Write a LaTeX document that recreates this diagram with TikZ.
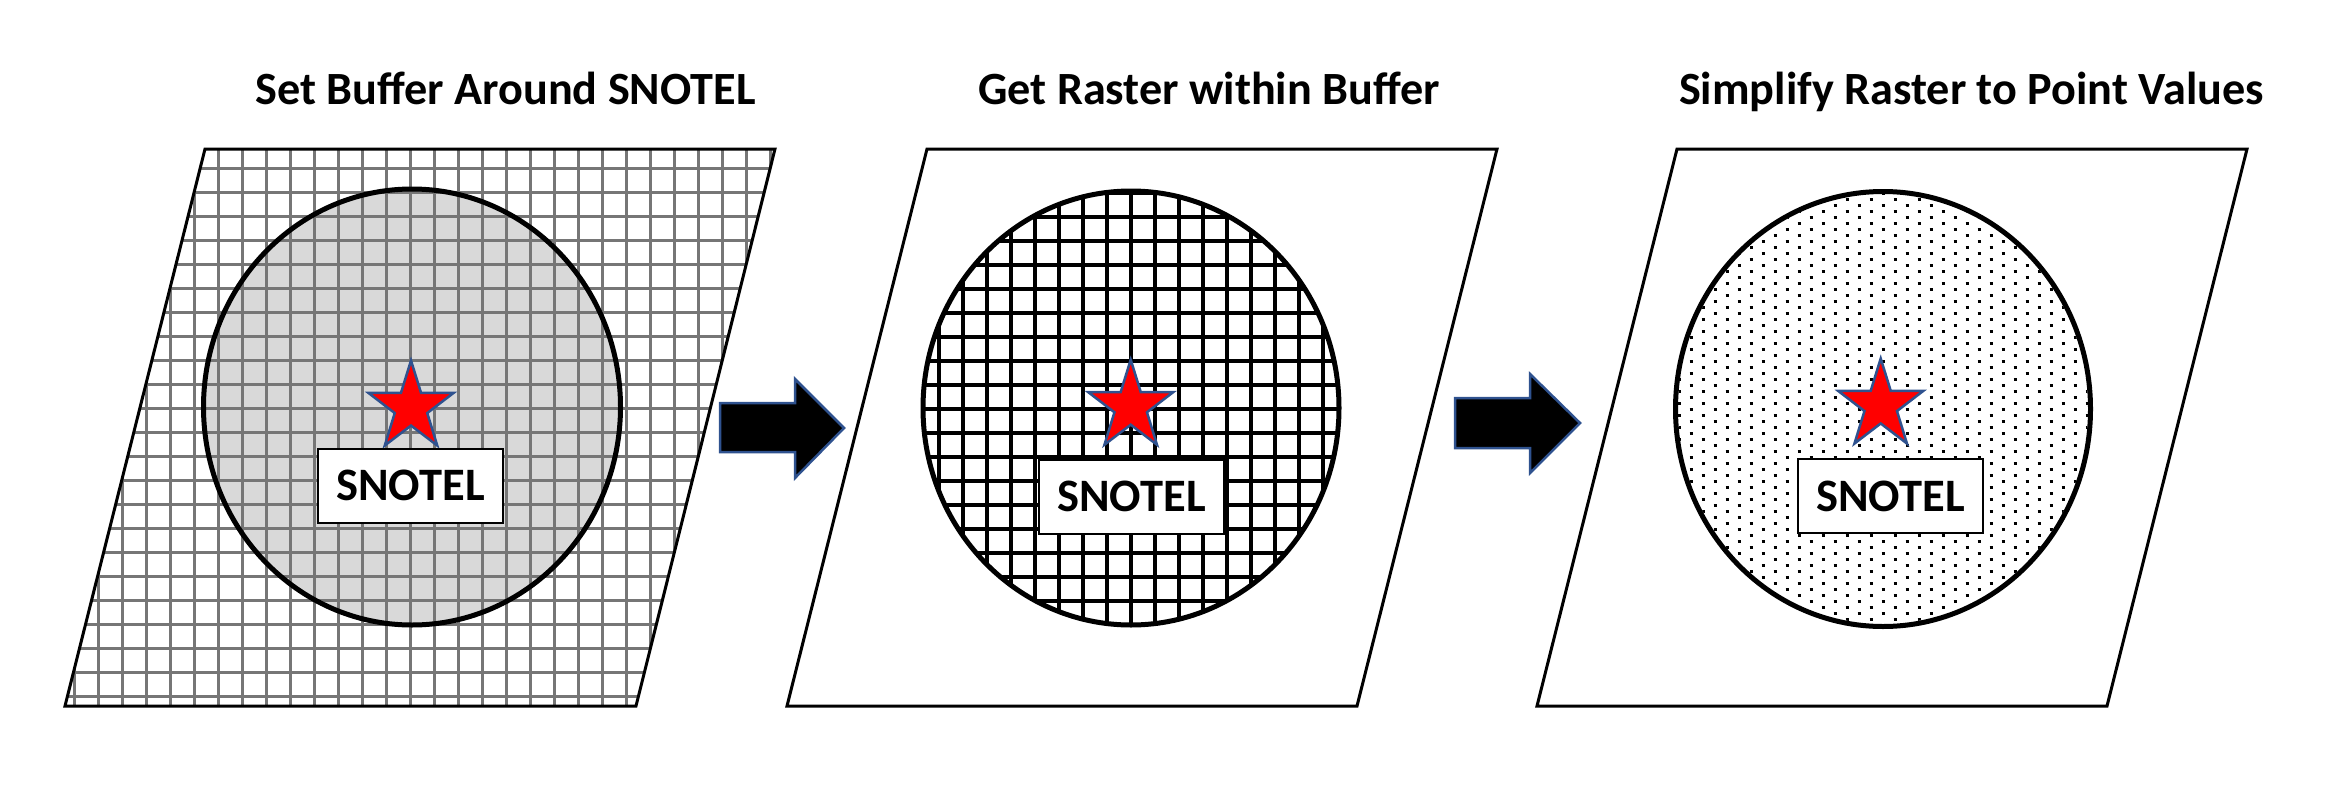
\documentclass[tikz,border=0pt]{standalone}
\usepackage{fontspec}
\setmainfont{Carlito}
\definecolor{gridgray}{RGB}{118,118,118}
\definecolor{buffill}{RGB}{217,217,217}
\definecolor{outlineblue}{RGB}{47,82,143}
\definecolor{starred}{RGB}{255,0,0}
\begin{document}
\begin{tikzpicture}[x=1pt,y=-1pt,
  panel/.style={draw=black,line width=3pt,line join=miter},
  buffer/.style={draw=black,line width=5pt},
  starsty/.style={fill=starred,draw=outlineblue,line width=2.5pt,line join=miter},
  labelbox/.style={draw=black,line width=2pt,fill=white,inner sep=0pt,minimum width=185pt,minimum height=74pt,font=\fontsize{46.5}{54}\selectfont\bfseries},
  titletext/.style={font=\fontsize{46.2}{54}\selectfont\bfseries,inner sep=0pt,anchor=base},
  blockarrow/.style={fill=black,draw=outlineblue,line width=2.5pt,line join=miter},
  rastergray/.style={draw=gridgray,line width=3pt},
  rasterblack/.style={draw=black,line width=4pt},
  dotrow/.style={draw=black,line width=3pt,dash pattern=on 3pt off 21pt}
]
\useasboundingbox (0,0) rectangle (2334,795);

% ---------- titles
\node[titletext] (t1) at (505.5,104) {Set Buffer Around SNOTEL};
\node[titletext] (t2) at (1209,104) {Get Raster within Buffer};
\node[titletext] (t3) at (1971.5,104) {Simplify Raster to Point Values};

% ---------- panel 1
\coordinate (p1a) at (65,706);
\coordinate (p1b) at (205,149);
\coordinate (p1c) at (775,149);
\coordinate (p1d) at (636,706);
\begin{scope}
  \clip (p1a) -- (p1b) -- (p1c) -- (p1d) -- cycle;
  \fill[buffill] (412,407) ellipse [x radius=208.5, y radius=218];
  \foreach \k in {-15,...,15}
    \draw[rastergray] ({410.3+24*(\k)},140) -- ({410.3+24*(\k)},720);
  \foreach \k in {-11,...,12}
    \draw[rastergray] (50,{408.3+24*(\k)}) -- (790,{408.3+24*(\k)});
\end{scope}
\draw[panel] (p1a) -- (p1b) -- (p1c) -- (p1d) -- cycle;
\draw[buffer] (412,407) ellipse [x radius=208.5, y radius=218];
\begin{scope}[shift={(411,407.5)},xscale=0.95]
  \draw[starsty] (270:47) -- (306:18) -- (342:47) -- (18:18) -- (54:47) -- (90:18) -- (126:47) -- (162:18) -- (198:47) -- (234:18) -- cycle;
\end{scope}
\node[labelbox] (s1) at (410.5,485.5) {SNOTEL};

% ---------- arrow 1
\draw[blockarrow] (720,403) -- (795,403) -- (795,379) -- (844,428) -- (795,478) -- (795,452) -- (720,452) -- cycle;

% ---------- panel 2
\coordinate (p2a) at (787,706);
\coordinate (p2b) at (927,149);
\coordinate (p2c) at (1497,149);
\coordinate (p2d) at (1357,706);
\draw[panel] (p2a) -- (p2b) -- (p2c) -- (p2d) -- cycle;
\begin{scope}
  \clip (1131,408) ellipse [x radius=208, y radius=217];
  \foreach \k in {-9,...,9}
    \draw[rasterblack] ({1131+24*(\k)},180) -- ({1131+24*(\k)},640);
  \foreach \k in {-10,...,10}
    \draw[rasterblack] (910,{408.7+24*(\k)}) -- (1350,{408.7+24*(\k)});
\end{scope}
\draw[buffer] (1131,408) ellipse [x radius=208, y radius=217];
\begin{scope}[shift={(1130.7,406.7)},xscale=0.95]
  \draw[starsty] (270:47) -- (306:18) -- (342:47) -- (18:18) -- (54:47) -- (90:18) -- (126:47) -- (162:18) -- (198:47) -- (234:18) -- cycle;
\end{scope}
\node[labelbox] (s2) at (1131.5,496.5) {SNOTEL};

% ---------- arrow 2
\draw[blockarrow] (1455,398) -- (1530,398) -- (1530,374) -- (1580,423) -- (1530,473) -- (1530,448) -- (1455,448) -- cycle;

% ---------- panel 3
\coordinate (p3a) at (1537,706);
\coordinate (p3b) at (1677,149);
\coordinate (p3c) at (2247,149);
\coordinate (p3d) at (2107,706);
\draw[panel] (p3a) -- (p3b) -- (p3c) -- (p3d) -- cycle;
\begin{scope}
  \clip (1883,409) ellipse [x radius=205, y radius=215];
  \foreach \k in {-19,...,19}
    \draw[dotrow] (1665.5,{409+12*(\k)}) -- (2110,{409+12*(\k)});
  \foreach \k in {-19,...,18}
    \draw[dotrow,dash phase=12pt] (1665.5,{415+12*(\k)}) -- (2110,{415+12*(\k)});
\end{scope}
\draw[buffer] (1883,409) ellipse [x radius=207.5, y radius=217.5];
\begin{scope}[shift={(1880.7,405.5)},xscale=0.95]
  \draw[starsty] (270:47) -- (306:18) -- (342:47) -- (18:18) -- (54:47) -- (90:18) -- (126:47) -- (162:18) -- (198:47) -- (234:18) -- cycle;
\end{scope}
\node[labelbox] (s3) at (1890.5,496.3) {SNOTEL};
\end{tikzpicture}
\end{document}
